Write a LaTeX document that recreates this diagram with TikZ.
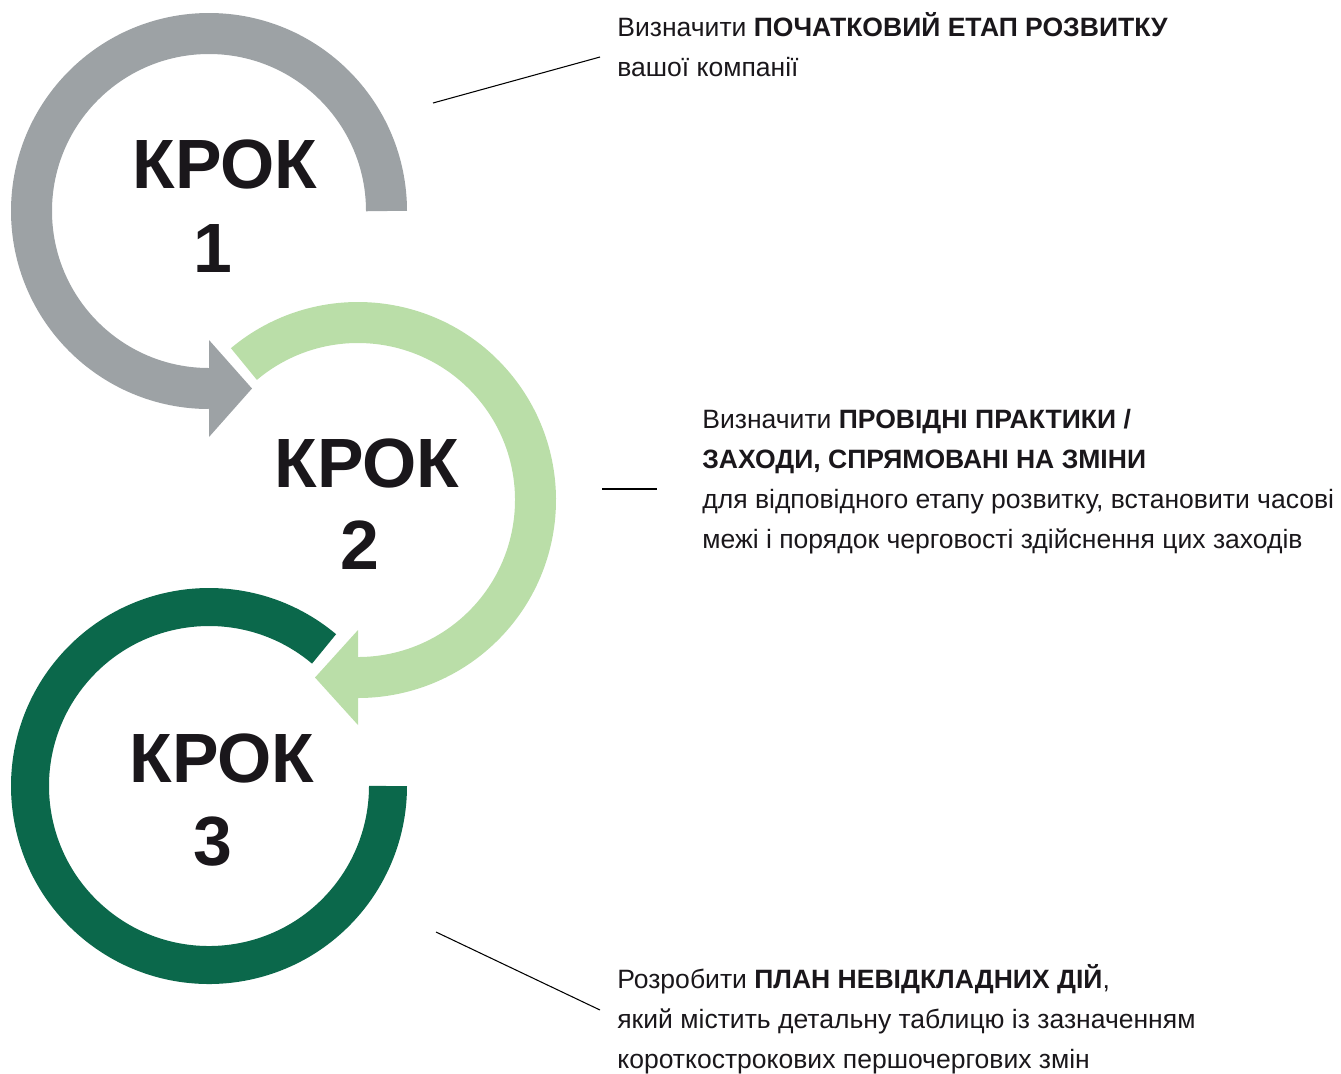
\documentclass[tikz,border=0pt]{standalone}
\usepackage{fontspec}
\setmainfont{Liberation Sans}
\usetikzlibrary{positioning}
\definecolor{stepgray}{RGB}{157,162,165}
\definecolor{steplight}{RGB}{186,222,168}
\definecolor{stepdark}{RGB}{11,104,75}
\definecolor{inkblack}{RGB}{26,23,27}

\begin{document}
\begin{tikzpicture}[x=0.02cm, y=0.02cm,
        ring/.style={line width=0.82cm, line cap=butt},
        steplabel/.style={font=\bfseries\fontsize{39.7}{47.6}\selectfont, text=inkblack, inner sep=0pt, anchor=base},
        note/.style={font=\fontsize{15.1}{22.7}\selectfont, text=inkblack, align=left, inner sep=0pt, anchor=base west},
        leader/.style={line width=0.6pt, black}]
        \useasboundingbox (0,0) rectangle (1341,-1073);
        \coordinate (C1) at (209,-211);
        \coordinate (C2) at (358,-500);
        \coordinate (C3) at (209,-786);
        % rings
        \draw[ring, stepgray] ([shift={(0:177.5)}]C1) arc[start angle=0, end angle=270, radius=177.5];
        \fill[stepgray] (209,-340) -- (252,-388.5) -- (209,-437) -- cycle;
        \draw[ring, steplight] ([shift={(130:177.5)}]C2) arc[start angle=130, end angle=-90, radius=177.5];
        \fill[steplight] (358,-630) -- (315,-677.5) -- (358,-725) -- cycle;
        \draw[ring, stepdark, line width=0.76cm] ([shift={(50:179)}]C3) arc[start angle=50, end angle=360, radius=179];
        % labels
        \node[steplabel] (krok1) at (225,-188) {КРОК};
        \node[steplabel] (num1) at (213,-272) {1};
        \node[steplabel] (krok2) at (367,-487) {КРОК};
        \node[steplabel] (num2) at (360,-569) {2};
        \node[steplabel] (krok3) at (222,-782) {КРОК};
        \node[steplabel] (num3) at (213,-865) {3};
        % notes (anchored at the last line)
        \node[note] (note1) at (617,-76) {Визначити \textbf{ПОЧАТКОВИЙ ЕТАП РОЗВИТКУ}\\вашої компанії};
        \node[note] (note2) at (702,-548) {Визначити \textbf{ПРОВІДНІ ПРАКТИКИ /}\\\textbf{ЗАХОДИ, СПРЯМОВАНІ НА ЗМІНИ}\\для відповідного етапу розвитку, встановити часові\\межі і порядок черговості здійснення цих заходів};
        \node[note] (note3) at (617,-1068) {Розробити \textbf{ПЛАН НЕВІДКЛАДНИХ ДІЙ},\\який містить детальну таблицю із зазначенням\\короткострокових першочергових змін};
        % leaders
        \coordinate (a1) at (433,-103);
        \coordinate (b1) at (600,-57);
        \coordinate (a2) at (602,-489);
        \coordinate (b2) at (657,-489);
        \coordinate (a3) at (436,-932);
        \coordinate (b3) at (600,-1010);
        \draw[leader] (a1) -- (b1);
        \draw[leader] (a2) -- (b2);
        \draw[leader] (a3) -- (b3);
\end{tikzpicture}
\end{document}
